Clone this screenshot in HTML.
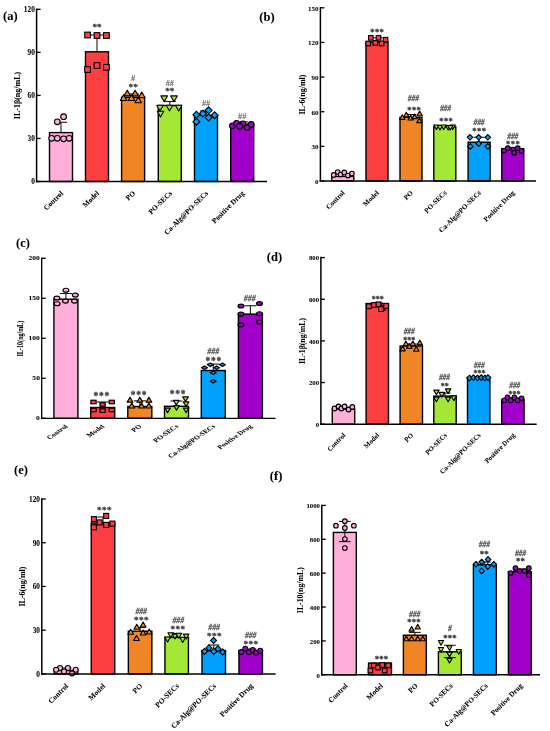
<!DOCTYPE html>
<html><head><meta charset="utf-8"><style>
html,body{margin:0;padding:0;background:#fff;width:550px;height:731px;overflow:hidden;}
svg{display:block;}
svg{will-change:transform;}
text{font-family:"Liberation Serif",serif;}
.k{stroke:#000;stroke-width:0.06px;}
</style></head><body>
<svg width="550" height="731" viewBox="0 0 550 731">
<rect width="550" height="731" fill="#fff"/>
<g>
<text transform="translate(3.00,19.80)" font-size="12.5" font-weight="bold" class="k">(a)</text>
<rect x="49.50" y="132.60" width="23.00" height="48.90" fill="#FFAFD9" stroke="#000" stroke-width="1.4"/>
<rect x="85.50" y="51.80" width="23.00" height="129.70" fill="#FD3F42" stroke="#000" stroke-width="1.4"/>
<rect x="121.60" y="97.30" width="23.00" height="84.20" fill="#F08526" stroke="#000" stroke-width="1.4"/>
<rect x="158.30" y="105.50" width="23.00" height="76.00" fill="#A2E834" stroke="#000" stroke-width="1.4"/>
<rect x="194.50" y="115.20" width="23.00" height="66.30" fill="#00A0FD" stroke="#000" stroke-width="1.4"/>
<rect x="230.70" y="124.20" width="23.00" height="57.30" fill="#A000C9" stroke="#000" stroke-width="1.4"/>
<line x1="61" y1="132.6" x2="61" y2="122.3" stroke="#1a1a1a" stroke-width="1.1"/>
<line x1="55" y1="122.3" x2="67" y2="122.3" stroke="#1a1a1a" stroke-width="1.1"/>
<line x1="97" y1="51.8" x2="97" y2="35" stroke="#1a1a1a" stroke-width="1.1"/>
<line x1="91" y1="35" x2="103" y2="35" stroke="#1a1a1a" stroke-width="1.1"/>
<line x1="133.1" y1="97.3" x2="133.1" y2="94" stroke="#1a1a1a" stroke-width="1.1"/>
<line x1="127.1" y1="94" x2="139.1" y2="94" stroke="#1a1a1a" stroke-width="1.1"/>
<line x1="169.8" y1="105.5" x2="169.8" y2="101.5" stroke="#1a1a1a" stroke-width="1.1"/>
<line x1="163.8" y1="101.5" x2="175.8" y2="101.5" stroke="#1a1a1a" stroke-width="1.1"/>
<line x1="206" y1="115.2" x2="206" y2="111" stroke="#1a1a1a" stroke-width="1.1"/>
<line x1="200" y1="111" x2="212" y2="111" stroke="#1a1a1a" stroke-width="1.1"/>
<line x1="242.2" y1="124.2" x2="242.2" y2="122" stroke="#1a1a1a" stroke-width="1.1"/>
<line x1="236.2" y1="122" x2="248.2" y2="122" stroke="#1a1a1a" stroke-width="1.1"/>
<ellipse cx="51.70" cy="138.30" rx="2.85" ry="2.85" fill="#FFAFD9" stroke="#000" stroke-width="1.1"/>
<ellipse cx="57.30" cy="138.30" rx="2.85" ry="2.85" fill="#FFAFD9" stroke="#000" stroke-width="1.1"/>
<ellipse cx="63.60" cy="138.80" rx="2.85" ry="2.85" fill="#FFAFD9" stroke="#000" stroke-width="1.1"/>
<ellipse cx="69.20" cy="138.30" rx="2.85" ry="2.85" fill="#FFAFD9" stroke="#000" stroke-width="1.1"/>
<ellipse cx="57.30" cy="121.80" rx="2.85" ry="2.85" fill="#FFAFD9" stroke="#000" stroke-width="1.1"/>
<ellipse cx="63.60" cy="116.70" rx="2.85" ry="2.85" fill="#FFAFD9" stroke="#000" stroke-width="1.1"/>
<rect x="84.75" y="32.15" width="5.70" height="5.70" fill="#FD3F42" stroke="#000" stroke-width="1.1"/>
<rect x="94.15" y="32.65" width="5.70" height="5.70" fill="#FD3F42" stroke="#000" stroke-width="1.1"/>
<rect x="103.55" y="32.65" width="5.70" height="5.70" fill="#FD3F42" stroke="#000" stroke-width="1.1"/>
<rect x="84.75" y="66.65" width="5.70" height="5.70" fill="#FD3F42" stroke="#000" stroke-width="1.1"/>
<rect x="94.15" y="62.65" width="5.70" height="5.70" fill="#FD3F42" stroke="#000" stroke-width="1.1"/>
<rect x="103.55" y="64.45" width="5.70" height="5.70" fill="#FD3F42" stroke="#000" stroke-width="1.1"/>
<polygon points="127.30,90.18 130.58,95.88 124.02,95.88" fill="#F08526" stroke="#000" stroke-width="1.1" stroke-linejoin="round"/>
<polygon points="135.10,90.18 138.38,95.88 131.82,95.88" fill="#F08526" stroke="#000" stroke-width="1.1" stroke-linejoin="round"/>
<polygon points="141.80,92.08 145.08,97.78 138.52,97.78" fill="#F08526" stroke="#000" stroke-width="1.1" stroke-linejoin="round"/>
<polygon points="123.60,94.78 126.88,100.48 120.32,100.48" fill="#F08526" stroke="#000" stroke-width="1.1" stroke-linejoin="round"/>
<polygon points="131.50,94.78 134.78,100.48 128.22,100.48" fill="#F08526" stroke="#000" stroke-width="1.1" stroke-linejoin="round"/>
<polygon points="138.20,96.98 141.48,102.68 134.92,102.68" fill="#F08526" stroke="#000" stroke-width="1.1" stroke-linejoin="round"/>
<polygon points="164.20,101.62 167.48,95.92 160.92,95.92" fill="#A2E834" stroke="#000" stroke-width="1.1" stroke-linejoin="round"/>
<polygon points="174.00,101.62 177.28,95.92 170.72,95.92" fill="#A2E834" stroke="#000" stroke-width="1.1" stroke-linejoin="round"/>
<polygon points="160.00,111.02 163.28,105.32 156.72,105.32" fill="#A2E834" stroke="#000" stroke-width="1.1" stroke-linejoin="round"/>
<polygon points="169.50,111.02 172.78,105.32 166.22,105.32" fill="#A2E834" stroke="#000" stroke-width="1.1" stroke-linejoin="round"/>
<polygon points="178.70,111.02 181.98,105.32 175.42,105.32" fill="#A2E834" stroke="#000" stroke-width="1.1" stroke-linejoin="round"/>
<polygon points="160.50,117.02 163.78,111.32 157.22,111.32" fill="#A2E834" stroke="#000" stroke-width="1.1" stroke-linejoin="round"/>
<polygon points="196.40,111.28 199.82,114.70 196.40,118.12 192.98,114.70" fill="#00A0FD" stroke="#000" stroke-width="1.1"/>
<polygon points="202.90,110.18 206.32,113.60 202.90,117.02 199.48,113.60" fill="#00A0FD" stroke="#000" stroke-width="1.1"/>
<polygon points="208.60,106.88 212.02,110.30 208.60,113.72 205.18,110.30" fill="#00A0FD" stroke="#000" stroke-width="1.1"/>
<polygon points="214.70,111.78 218.12,115.20 214.70,118.62 211.28,115.20" fill="#00A0FD" stroke="#000" stroke-width="1.1"/>
<polygon points="208.60,114.18 212.02,117.60 208.60,121.02 205.18,117.60" fill="#00A0FD" stroke="#000" stroke-width="1.1"/>
<polygon points="196.40,118.28 199.82,121.70 196.40,125.12 192.98,121.70" fill="#00A0FD" stroke="#000" stroke-width="1.1"/>
<ellipse cx="232.40" cy="125.80" rx="2.85" ry="2.85" fill="#A000C9" stroke="#000" stroke-width="1.1"/>
<ellipse cx="236.50" cy="123.40" rx="2.85" ry="2.85" fill="#A000C9" stroke="#000" stroke-width="1.1"/>
<ellipse cx="243.00" cy="123.90" rx="2.85" ry="2.85" fill="#A000C9" stroke="#000" stroke-width="1.1"/>
<ellipse cx="247.10" cy="127.50" rx="2.85" ry="2.85" fill="#A000C9" stroke="#000" stroke-width="1.1"/>
<ellipse cx="251.20" cy="124.50" rx="2.85" ry="2.85" fill="#A000C9" stroke="#000" stroke-width="1.1"/>
<ellipse cx="239.70" cy="126.30" rx="2.85" ry="2.85" fill="#A000C9" stroke="#000" stroke-width="1.1"/>
<line x1="36.6" y1="8.55" x2="36.6" y2="182.25" stroke="#000" stroke-width="1.5"/>
<line x1="35.85" y1="181.5" x2="267" y2="181.5" stroke="#000" stroke-width="1.5"/>
<line x1="36.6" y1="181.50" x2="40.6" y2="181.50" stroke="#000" stroke-width="1.3"/>
<text transform="translate(34.80,184.42)" font-size="7.3" font-weight="bold" text-anchor="end" class="k">0</text>
<line x1="36.6" y1="138.45" x2="40.6" y2="138.45" stroke="#000" stroke-width="1.3"/>
<text transform="translate(34.80,141.37)" font-size="7.3" font-weight="bold" text-anchor="end" class="k">30</text>
<line x1="36.6" y1="95.40" x2="40.6" y2="95.40" stroke="#000" stroke-width="1.3"/>
<text transform="translate(34.80,98.32)" font-size="7.3" font-weight="bold" text-anchor="end" class="k">60</text>
<line x1="36.6" y1="52.35" x2="40.6" y2="52.35" stroke="#000" stroke-width="1.3"/>
<text transform="translate(34.80,55.27)" font-size="7.3" font-weight="bold" text-anchor="end" class="k">90</text>
<line x1="36.6" y1="9.30" x2="40.6" y2="9.30" stroke="#000" stroke-width="1.3"/>
<text transform="translate(34.80,12.22)" font-size="7.3" font-weight="bold" text-anchor="end" class="k">120</text>
<text transform="translate(20.00,95.50) rotate(-90)" font-size="8" font-weight="bold" text-anchor="middle" class="k">IL-1β(ng/mL)</text>
<text transform="translate(63.60,193.70) rotate(-45)" font-size="7.3" font-weight="bold" text-anchor="end" class="k">Control</text>
<text transform="translate(99.60,193.70) rotate(-45)" font-size="7.3" font-weight="bold" text-anchor="end" class="k">Model</text>
<text transform="translate(135.70,193.70) rotate(-45)" font-size="7.3" font-weight="bold" text-anchor="end" class="k">PO</text>
<text transform="translate(172.40,193.70) rotate(-45)" font-size="7.3" font-weight="bold" text-anchor="end" class="k">PO-SECs</text>
<text transform="translate(208.60,193.70) rotate(-45)" font-size="7.3" font-weight="bold" text-anchor="end" class="k">Ca-Alg@PO-SECs</text>
<text transform="translate(244.80,193.70) rotate(-45)" font-size="7.3" font-weight="bold" text-anchor="end" class="k">Positive Drug</text>
<text transform="translate(96.97,30.16)" font-size="9.2" font-weight="bold" text-anchor="middle" fill="#3c3c3c" stroke="#3c3c3c" stroke-width="0.3">**</text>
<text transform="translate(133.09,81.00)" font-size="8.3" font-weight="bold" text-anchor="middle" fill="#5a5a5a">#</text>
<text transform="translate(133.17,90.36)" font-size="9.2" font-weight="bold" text-anchor="middle" fill="#3c3c3c" stroke="#3c3c3c" stroke-width="0.3">**</text>
<text transform="translate(169.80,85.64)" font-size="8.3" font-weight="bold" text-anchor="middle" fill="#5a5a5a">##</text>
<text transform="translate(169.84,93.75)" font-size="9.2" font-weight="bold" text-anchor="middle" fill="#3c3c3c" stroke="#3c3c3c" stroke-width="0.3">**</text>
<text transform="translate(206.02,106.00)" font-size="8.3" font-weight="bold" text-anchor="middle" fill="#5a5a5a">##</text>
<text transform="translate(242.17,119.20)" font-size="8.3" font-weight="bold" text-anchor="middle" fill="#5a5a5a">##</text>
</g>
<g>
<text transform="translate(259.30,20.50)" font-size="12.5" font-weight="bold" class="k">(b)</text>
<rect x="331.80" y="176.40" width="22.00" height="4.60" fill="#FFAFD9" stroke="#000" stroke-width="1.4"/>
<rect x="366.00" y="42.00" width="22.00" height="139.00" fill="#FD3F42" stroke="#000" stroke-width="1.4"/>
<rect x="400.00" y="117.30" width="22.00" height="63.70" fill="#F08526" stroke="#000" stroke-width="1.4"/>
<rect x="433.80" y="126.90" width="22.00" height="54.10" fill="#A2E834" stroke="#000" stroke-width="1.4"/>
<rect x="468.10" y="142.20" width="22.00" height="38.80" fill="#00A0FD" stroke="#000" stroke-width="1.4"/>
<rect x="501.80" y="148.70" width="22.00" height="32.30" fill="#A000C9" stroke="#000" stroke-width="1.4"/>
<line x1="377" y1="42" x2="377" y2="37.8" stroke="#1a1a1a" stroke-width="1.1"/>
<line x1="371.5" y1="37.8" x2="382.5" y2="37.8" stroke="#1a1a1a" stroke-width="1.1"/>
<line x1="411" y1="117.3" x2="411" y2="114.5" stroke="#1a1a1a" stroke-width="1.1"/>
<line x1="405.5" y1="114.5" x2="416.5" y2="114.5" stroke="#1a1a1a" stroke-width="1.1"/>
<line x1="444.8" y1="126.9" x2="444.8" y2="125.5" stroke="#1a1a1a" stroke-width="1.1"/>
<line x1="439.3" y1="125.5" x2="450.3" y2="125.5" stroke="#1a1a1a" stroke-width="1.1"/>
<line x1="479.1" y1="142.2" x2="479.1" y2="137.3" stroke="#1a1a1a" stroke-width="1.1"/>
<line x1="473.6" y1="137.3" x2="484.6" y2="137.3" stroke="#1a1a1a" stroke-width="1.1"/>
<line x1="512.8" y1="148.7" x2="512.8" y2="147.5" stroke="#1a1a1a" stroke-width="1.1"/>
<line x1="507.29999999999995" y1="147.5" x2="518.3" y2="147.5" stroke="#1a1a1a" stroke-width="1.1"/>
<ellipse cx="333.70" cy="174.90" rx="2.30" ry="2.30" fill="#FFAFD9" stroke="#000" stroke-width="1.1"/>
<ellipse cx="337.70" cy="172.00" rx="2.30" ry="2.30" fill="#FFAFD9" stroke="#000" stroke-width="1.1"/>
<ellipse cx="340.60" cy="174.50" rx="2.30" ry="2.30" fill="#FFAFD9" stroke="#000" stroke-width="1.1"/>
<ellipse cx="344.30" cy="172.40" rx="2.30" ry="2.30" fill="#FFAFD9" stroke="#000" stroke-width="1.1"/>
<ellipse cx="347.90" cy="175.60" rx="2.30" ry="2.30" fill="#FFAFD9" stroke="#000" stroke-width="1.1"/>
<ellipse cx="351.90" cy="173.50" rx="2.30" ry="2.30" fill="#FFAFD9" stroke="#000" stroke-width="1.1"/>
<rect x="368.50" y="35.50" width="4.60" height="4.60" fill="#FD3F42" stroke="#000" stroke-width="1.1"/>
<rect x="376.20" y="35.50" width="4.60" height="4.60" fill="#FD3F42" stroke="#000" stroke-width="1.1"/>
<rect x="383.20" y="37.40" width="4.60" height="4.60" fill="#FD3F42" stroke="#000" stroke-width="1.1"/>
<rect x="366.00" y="41.20" width="4.60" height="4.60" fill="#FD3F42" stroke="#000" stroke-width="1.1"/>
<rect x="373.00" y="40.60" width="4.60" height="4.60" fill="#FD3F42" stroke="#000" stroke-width="1.1"/>
<rect x="379.30" y="41.20" width="4.60" height="4.60" fill="#FD3F42" stroke="#000" stroke-width="1.1"/>
<polygon points="402.30,114.74 404.94,119.34 399.66,119.34" fill="#F08526" stroke="#000" stroke-width="1.1" stroke-linejoin="round"/>
<polygon points="406.30,112.24 408.94,116.84 403.66,116.84" fill="#F08526" stroke="#000" stroke-width="1.1" stroke-linejoin="round"/>
<polygon points="410.60,115.44 413.25,120.04 407.96,120.04" fill="#F08526" stroke="#000" stroke-width="1.1" stroke-linejoin="round"/>
<polygon points="414.60,114.04 417.25,118.64 411.96,118.64" fill="#F08526" stroke="#000" stroke-width="1.1" stroke-linejoin="round"/>
<polygon points="419.70,111.14 422.34,115.74 417.06,115.74" fill="#F08526" stroke="#000" stroke-width="1.1" stroke-linejoin="round"/>
<polygon points="419.40,118.04 422.04,122.64 416.75,122.64" fill="#F08526" stroke="#000" stroke-width="1.1" stroke-linejoin="round"/>
<polygon points="436.40,129.56 439.05,124.96 433.76,124.96" fill="#A2E834" stroke="#000" stroke-width="1.1" stroke-linejoin="round"/>
<polygon points="440.00,130.06 442.64,125.46 437.36,125.46" fill="#A2E834" stroke="#000" stroke-width="1.1" stroke-linejoin="round"/>
<polygon points="443.60,129.56 446.25,124.96 440.96,124.96" fill="#A2E834" stroke="#000" stroke-width="1.1" stroke-linejoin="round"/>
<polygon points="448.20,130.06 450.84,125.46 445.56,125.46" fill="#A2E834" stroke="#000" stroke-width="1.1" stroke-linejoin="round"/>
<polygon points="452.70,129.56 455.34,124.96 450.06,124.96" fill="#A2E834" stroke="#000" stroke-width="1.1" stroke-linejoin="round"/>
<polygon points="450.30,130.06 452.94,125.46 447.66,125.46" fill="#A2E834" stroke="#000" stroke-width="1.1" stroke-linejoin="round"/>
<polygon points="470.00,134.54 472.76,137.30 470.00,140.06 467.24,137.30" fill="#00A0FD" stroke="#000" stroke-width="1.1"/>
<polygon points="478.70,134.54 481.46,137.30 478.70,140.06 475.94,137.30" fill="#00A0FD" stroke="#000" stroke-width="1.1"/>
<polygon points="487.80,134.54 490.56,137.30 487.80,140.06 485.04,137.30" fill="#00A0FD" stroke="#000" stroke-width="1.1"/>
<polygon points="470.40,143.64 473.16,146.40 470.40,149.16 467.64,146.40" fill="#00A0FD" stroke="#000" stroke-width="1.1"/>
<polygon points="478.70,140.84 481.46,143.60 478.70,146.36 475.94,143.60" fill="#00A0FD" stroke="#000" stroke-width="1.1"/>
<polygon points="487.80,143.64 490.56,146.40 487.80,149.16 485.04,146.40" fill="#00A0FD" stroke="#000" stroke-width="1.1"/>
<ellipse cx="504.10" cy="150.50" rx="2.30" ry="2.30" fill="#A000C9" stroke="#000" stroke-width="1.1"/>
<ellipse cx="507.80" cy="148.20" rx="2.30" ry="2.30" fill="#A000C9" stroke="#000" stroke-width="1.1"/>
<ellipse cx="513.20" cy="149.50" rx="2.30" ry="2.30" fill="#A000C9" stroke="#000" stroke-width="1.1"/>
<ellipse cx="517.80" cy="148.20" rx="2.30" ry="2.30" fill="#A000C9" stroke="#000" stroke-width="1.1"/>
<ellipse cx="521.40" cy="150.90" rx="2.30" ry="2.30" fill="#A000C9" stroke="#000" stroke-width="1.1"/>
<ellipse cx="514.10" cy="152.70" rx="2.30" ry="2.30" fill="#A000C9" stroke="#000" stroke-width="1.1"/>
<line x1="320.4" y1="7.05" x2="320.4" y2="181.75" stroke="#000" stroke-width="1.5"/>
<line x1="319.65" y1="181" x2="536" y2="181" stroke="#000" stroke-width="1.5"/>
<line x1="320.4" y1="181.00" x2="324.4" y2="181.00" stroke="#000" stroke-width="1.3"/>
<text transform="translate(318.60,183.80)" font-size="7" font-weight="bold" text-anchor="end" class="k">0</text>
<line x1="320.4" y1="146.36" x2="324.4" y2="146.36" stroke="#000" stroke-width="1.3"/>
<text transform="translate(318.60,149.16)" font-size="7" font-weight="bold" text-anchor="end" class="k">30</text>
<line x1="320.4" y1="111.72" x2="324.4" y2="111.72" stroke="#000" stroke-width="1.3"/>
<text transform="translate(318.60,114.52)" font-size="7" font-weight="bold" text-anchor="end" class="k">60</text>
<line x1="320.4" y1="77.08" x2="324.4" y2="77.08" stroke="#000" stroke-width="1.3"/>
<text transform="translate(318.60,79.88)" font-size="7" font-weight="bold" text-anchor="end" class="k">90</text>
<line x1="320.4" y1="42.44" x2="324.4" y2="42.44" stroke="#000" stroke-width="1.3"/>
<text transform="translate(318.60,45.24)" font-size="7" font-weight="bold" text-anchor="end" class="k">120</text>
<line x1="320.4" y1="7.80" x2="324.4" y2="7.80" stroke="#000" stroke-width="1.3"/>
<text transform="translate(318.60,10.60)" font-size="7" font-weight="bold" text-anchor="end" class="k">150</text>
<text transform="translate(304.50,94.50) rotate(-90)" font-size="8.0" font-weight="bold" text-anchor="middle" class="k">IL-6(ng/ml)</text>
<text transform="translate(345.10,193.30) rotate(-45)" font-size="7.0" font-weight="bold" text-anchor="end" class="k">Control</text>
<text transform="translate(379.30,193.30) rotate(-45)" font-size="7.0" font-weight="bold" text-anchor="end" class="k">Model</text>
<text transform="translate(413.30,193.30) rotate(-45)" font-size="7.0" font-weight="bold" text-anchor="end" class="k">PO</text>
<text transform="translate(447.10,193.30) rotate(-45)" font-size="7.0" font-weight="bold" text-anchor="end" class="k">PO-SECs</text>
<text transform="translate(481.40,193.30) rotate(-45)" font-size="7.0" font-weight="bold" text-anchor="end" class="k">Ca-Alg@PO-SECs</text>
<text transform="translate(515.10,193.30) rotate(-45)" font-size="7.0" font-weight="bold" text-anchor="end" class="k">Positive Drug</text>
<text transform="translate(377.25,35.27)" font-size="8.6" font-weight="bold" text-anchor="middle" fill="#3c3c3c" stroke="#3c3c3c" stroke-width="0.3" letter-spacing="0.40">***</text>
<text transform="translate(413.38,100.70)" font-size="7.4" text-anchor="middle" fill="#585858" font-style="italic" stroke="#585858" stroke-width="0.3">###</text>
<text transform="translate(414.25,113.27)" font-size="8.6" font-weight="bold" text-anchor="middle" fill="#3c3c3c" stroke="#3c3c3c" stroke-width="0.3" letter-spacing="0.40">***</text>
<text transform="translate(445.47,111.33)" font-size="7.4" text-anchor="middle" fill="#585858" font-style="italic" stroke="#585858" stroke-width="0.3">###</text>
<text transform="translate(446.25,123.67)" font-size="8.6" font-weight="bold" text-anchor="middle" fill="#3c3c3c" stroke="#3c3c3c" stroke-width="0.3" letter-spacing="0.40">***</text>
<text transform="translate(478.99,124.69)" font-size="7.4" text-anchor="middle" fill="#585858" font-style="italic" stroke="#585858" stroke-width="0.3">###</text>
<text transform="translate(479.35,133.67)" font-size="8.6" font-weight="bold" text-anchor="middle" fill="#3c3c3c" stroke="#3c3c3c" stroke-width="0.3" letter-spacing="0.40">***</text>
<text transform="translate(512.78,138.80)" font-size="7.4" text-anchor="middle" fill="#585858" font-style="italic" stroke="#585858" stroke-width="0.3">###</text>
<text transform="translate(513.05,146.87)" font-size="8.6" font-weight="bold" text-anchor="middle" fill="#3c3c3c" stroke="#3c3c3c" stroke-width="0.3" letter-spacing="0.40">***</text>
</g>
<g>
<text transform="translate(16.00,246.90)" font-size="12.5" font-weight="bold" class="k">(c)</text>
<rect x="53.90" y="299.20" width="24.00" height="119.10" fill="#FFAFD9" stroke="#000" stroke-width="1.4"/>
<rect x="90.70" y="407.50" width="24.00" height="10.80" fill="#FD3F42" stroke="#000" stroke-width="1.4"/>
<rect x="127.80" y="406.50" width="24.00" height="11.80" fill="#F08526" stroke="#000" stroke-width="1.4"/>
<rect x="164.50" y="406.30" width="24.00" height="12.00" fill="#A2E834" stroke="#000" stroke-width="1.4"/>
<rect x="201.30" y="370.50" width="24.00" height="47.80" fill="#00A0FD" stroke="#000" stroke-width="1.4"/>
<rect x="238.40" y="314.10" width="24.00" height="104.20" fill="#A000C9" stroke="#000" stroke-width="1.4"/>
<line x1="65.9" y1="299.2" x2="65.9" y2="293.5" stroke="#1a1a1a" stroke-width="1.1"/>
<line x1="59.900000000000006" y1="293.5" x2="71.9" y2="293.5" stroke="#1a1a1a" stroke-width="1.1"/>
<line x1="102.7" y1="407.5" x2="102.7" y2="402" stroke="#1a1a1a" stroke-width="1.1"/>
<line x1="96.7" y1="402" x2="108.7" y2="402" stroke="#1a1a1a" stroke-width="1.1"/>
<line x1="139.8" y1="406.5" x2="139.8" y2="400.8" stroke="#1a1a1a" stroke-width="1.1"/>
<line x1="133.8" y1="400.8" x2="145.8" y2="400.8" stroke="#1a1a1a" stroke-width="1.1"/>
<line x1="176.5" y1="406.3" x2="176.5" y2="401" stroke="#1a1a1a" stroke-width="1.1"/>
<line x1="170.5" y1="401" x2="182.5" y2="401" stroke="#1a1a1a" stroke-width="1.1"/>
<line x1="213.3" y1="370.5" x2="213.3" y2="364.1" stroke="#1a1a1a" stroke-width="1.1"/>
<line x1="207.3" y1="364.1" x2="219.3" y2="364.1" stroke="#1a1a1a" stroke-width="1.1"/>
<line x1="250.4" y1="314.1" x2="250.4" y2="305.7" stroke="#1a1a1a" stroke-width="1.1"/>
<line x1="244.4" y1="305.7" x2="256.4" y2="305.7" stroke="#1a1a1a" stroke-width="1.1"/>
<ellipse cx="65.90" cy="290.20" rx="2.95" ry="1.95" fill="#FFAFD9" stroke="#000" stroke-width="1.2"/>
<ellipse cx="75.30" cy="295.10" rx="2.95" ry="1.95" fill="#FFAFD9" stroke="#000" stroke-width="1.2"/>
<ellipse cx="56.90" cy="298.00" rx="2.95" ry="1.95" fill="#FFAFD9" stroke="#000" stroke-width="1.2"/>
<ellipse cx="65.50" cy="301.10" rx="2.95" ry="1.95" fill="#FFAFD9" stroke="#000" stroke-width="1.2"/>
<ellipse cx="74.50" cy="301.10" rx="2.95" ry="1.95" fill="#FFAFD9" stroke="#000" stroke-width="1.2"/>
<ellipse cx="57.10" cy="303.70" rx="2.95" ry="1.95" fill="#FFAFD9" stroke="#000" stroke-width="1.2"/>
<rect x="90.90" y="400.25" width="5.20" height="3.50" fill="#FD3F42" stroke="#000" stroke-width="1.2"/>
<rect x="109.20" y="400.25" width="5.20" height="3.50" fill="#FD3F42" stroke="#000" stroke-width="1.2"/>
<rect x="100.00" y="402.75" width="5.20" height="3.50" fill="#FD3F42" stroke="#000" stroke-width="1.2"/>
<rect x="90.90" y="408.25" width="5.20" height="3.50" fill="#FD3F42" stroke="#000" stroke-width="1.2"/>
<rect x="100.00" y="408.85" width="5.20" height="3.50" fill="#FD3F42" stroke="#000" stroke-width="1.2"/>
<rect x="109.20" y="408.25" width="5.20" height="3.50" fill="#FD3F42" stroke="#000" stroke-width="1.2"/>
<polygon points="130.00,397.20 132.90,402.20 127.10,402.20" fill="#F08526" stroke="#000" stroke-width="1.2" stroke-linejoin="round"/>
<polygon points="139.80,397.20 142.70,402.20 136.90,402.20" fill="#F08526" stroke="#000" stroke-width="1.2" stroke-linejoin="round"/>
<polygon points="148.90,397.20 151.80,402.20 146.00,402.20" fill="#F08526" stroke="#000" stroke-width="1.2" stroke-linejoin="round"/>
<polygon points="131.80,403.00 134.70,408.00 128.90,408.00" fill="#F08526" stroke="#000" stroke-width="1.2" stroke-linejoin="round"/>
<polygon points="141.60,403.00 144.50,408.00 138.70,408.00" fill="#F08526" stroke="#000" stroke-width="1.2" stroke-linejoin="round"/>
<polygon points="148.90,403.00 151.80,408.00 146.00,408.00" fill="#F08526" stroke="#000" stroke-width="1.2" stroke-linejoin="round"/>
<polygon points="176.30,405.06 179.10,400.46 173.50,400.46" fill="#A2E834" stroke="#000" stroke-width="1.2" stroke-linejoin="round"/>
<polygon points="185.50,401.46 188.30,396.86 182.70,396.86" fill="#A2E834" stroke="#000" stroke-width="1.2" stroke-linejoin="round"/>
<polygon points="186.10,406.56 188.90,401.96 183.30,401.96" fill="#A2E834" stroke="#000" stroke-width="1.2" stroke-linejoin="round"/>
<polygon points="167.60,412.66 170.40,408.06 164.80,408.06" fill="#A2E834" stroke="#000" stroke-width="1.2" stroke-linejoin="round"/>
<polygon points="176.50,410.16 179.30,405.56 173.70,405.56" fill="#A2E834" stroke="#000" stroke-width="1.2" stroke-linejoin="round"/>
<polygon points="186.10,412.66 188.90,408.06 183.30,408.06" fill="#A2E834" stroke="#000" stroke-width="1.2" stroke-linejoin="round"/>
<polygon points="204.50,365.90 207.30,367.70 204.50,369.50 201.70,367.70" fill="#00A0FD" stroke="#000" stroke-width="1.2"/>
<polygon points="210.30,362.90 213.10,364.70 210.30,366.50 207.50,364.70" fill="#00A0FD" stroke="#000" stroke-width="1.2"/>
<polygon points="216.60,365.90 219.40,367.70 216.60,369.50 213.80,367.70" fill="#00A0FD" stroke="#000" stroke-width="1.2"/>
<polygon points="222.40,362.90 225.20,364.70 222.40,366.50 219.60,364.70" fill="#00A0FD" stroke="#000" stroke-width="1.2"/>
<polygon points="213.20,370.90 216.00,372.70 213.20,374.50 210.40,372.70" fill="#00A0FD" stroke="#000" stroke-width="1.2"/>
<polygon points="213.20,379.50 216.00,381.30 213.20,383.10 210.40,381.30" fill="#00A0FD" stroke="#000" stroke-width="1.2"/>
<ellipse cx="241.00" cy="306.00" rx="2.95" ry="1.95" fill="#A000C9" stroke="#000" stroke-width="1.2"/>
<ellipse cx="259.50" cy="303.50" rx="2.95" ry="1.95" fill="#A000C9" stroke="#000" stroke-width="1.2"/>
<ellipse cx="241.00" cy="314.10" rx="2.95" ry="1.95" fill="#A000C9" stroke="#000" stroke-width="1.2"/>
<ellipse cx="259.50" cy="313.70" rx="2.95" ry="1.95" fill="#A000C9" stroke="#000" stroke-width="1.2"/>
<ellipse cx="241.00" cy="324.80" rx="2.95" ry="1.95" fill="#A000C9" stroke="#000" stroke-width="1.2"/>
<ellipse cx="259.50" cy="321.90" rx="2.95" ry="1.95" fill="#A000C9" stroke="#000" stroke-width="1.2"/>
<line x1="41.7" y1="257.65000000000003" x2="41.7" y2="418.95" stroke="#000" stroke-width="1.3"/>
<line x1="41.050000000000004" y1="418.3" x2="275.6" y2="418.3" stroke="#000" stroke-width="1.3"/>
<line x1="41.7" y1="418.30" x2="45.7" y2="418.30" stroke="#000" stroke-width="1.3"/>
<text transform="translate(39.90,420.43) scale(1.08,0.76)" font-size="7" font-weight="bold" text-anchor="end" class="k">0</text>
<line x1="41.7" y1="378.30" x2="45.7" y2="378.30" stroke="#000" stroke-width="1.3"/>
<text transform="translate(39.90,380.43) scale(1.08,0.76)" font-size="7" font-weight="bold" text-anchor="end" class="k">50</text>
<line x1="41.7" y1="338.30" x2="45.7" y2="338.30" stroke="#000" stroke-width="1.3"/>
<text transform="translate(39.90,340.43) scale(1.08,0.76)" font-size="7" font-weight="bold" text-anchor="end" class="k">100</text>
<line x1="41.7" y1="298.30" x2="45.7" y2="298.30" stroke="#000" stroke-width="1.3"/>
<text transform="translate(39.90,300.43) scale(1.08,0.76)" font-size="7" font-weight="bold" text-anchor="end" class="k">150</text>
<line x1="41.7" y1="258.30" x2="45.7" y2="258.30" stroke="#000" stroke-width="1.3"/>
<text transform="translate(39.90,260.43) scale(1.08,0.76)" font-size="7" font-weight="bold" text-anchor="end" class="k">200</text>
<text transform="translate(22.80,338.50) scale(1.08,0.76) rotate(-90)" font-size="8" font-weight="bold" text-anchor="middle" class="k">IL-10(ng/mL)</text>
<text transform="translate(68.20,426.80) scale(1.08,0.76) rotate(-45)" font-size="7.3" font-weight="bold" text-anchor="end" class="k">Control</text>
<text transform="translate(105.00,426.80) scale(1.08,0.76) rotate(-45)" font-size="7.3" font-weight="bold" text-anchor="end" class="k">Model</text>
<text transform="translate(142.10,426.80) scale(1.08,0.76) rotate(-45)" font-size="7.3" font-weight="bold" text-anchor="end" class="k">PO</text>
<text transform="translate(178.80,426.80) scale(1.08,0.76) rotate(-45)" font-size="7.3" font-weight="bold" text-anchor="end" class="k">PO-SECs</text>
<text transform="translate(215.60,426.80) scale(1.08,0.76) rotate(-45)" font-size="7.3" font-weight="bold" text-anchor="end" class="k">Ca-Alg@PO-SECs</text>
<text transform="translate(252.70,426.80) scale(1.08,0.76) rotate(-45)" font-size="7.3" font-weight="bold" text-anchor="end" class="k">Positive Drug</text>
<text transform="translate(101.69,399.34)" font-size="9.4" font-weight="bold" text-anchor="middle" fill="#3c3c3c" stroke="#3c3c3c" stroke-width="0.3" letter-spacing="0.80">***</text>
<text transform="translate(139.09,398.42)" font-size="9.4" font-weight="bold" text-anchor="middle" fill="#3c3c3c" stroke="#3c3c3c" stroke-width="0.3" letter-spacing="0.80">***</text>
<text transform="translate(177.89,397.02)" font-size="9.4" font-weight="bold" text-anchor="middle" fill="#3c3c3c" stroke="#3c3c3c" stroke-width="0.3" letter-spacing="0.80">***</text>
<text transform="translate(213.18,354.22)" font-size="7.8" text-anchor="middle" fill="#585858" font-style="italic" stroke="#585858" stroke-width="0.3">###</text>
<text transform="translate(213.76,364.02)" font-size="9.4" font-weight="bold" text-anchor="middle" fill="#3c3c3c" stroke="#3c3c3c" stroke-width="0.3" letter-spacing="0.80">***</text>
<text transform="translate(249.68,300.82)" font-size="7.8" text-anchor="middle" fill="#585858" font-style="italic" stroke="#585858" stroke-width="0.3">###</text>
</g>
<g>
<text transform="translate(266.80,260.80)" font-size="12.5" font-weight="bold" class="k">(d)</text>
<rect x="332.30" y="409.00" width="22.40" height="15.20" fill="#FFAFD9" stroke="#000" stroke-width="1.4"/>
<rect x="366.10" y="303.50" width="22.40" height="120.70" fill="#FD3F42" stroke="#000" stroke-width="1.4"/>
<rect x="400.10" y="346.00" width="22.40" height="78.20" fill="#F08526" stroke="#000" stroke-width="1.4"/>
<rect x="433.80" y="396.10" width="22.40" height="28.10" fill="#A2E834" stroke="#000" stroke-width="1.4"/>
<rect x="467.50" y="377.50" width="22.40" height="46.70" fill="#00A0FD" stroke="#000" stroke-width="1.4"/>
<rect x="501.70" y="399.80" width="22.40" height="24.40" fill="#A000C9" stroke="#000" stroke-width="1.4"/>
<line x1="377.3" y1="303.5" x2="377.3" y2="303" stroke="#1a1a1a" stroke-width="1.1"/>
<line x1="371.8" y1="303" x2="382.8" y2="303" stroke="#1a1a1a" stroke-width="1.1"/>
<line x1="411.3" y1="346" x2="411.3" y2="344" stroke="#1a1a1a" stroke-width="1.1"/>
<line x1="405.8" y1="344" x2="416.8" y2="344" stroke="#1a1a1a" stroke-width="1.1"/>
<line x1="445" y1="396.1" x2="445" y2="393" stroke="#1a1a1a" stroke-width="1.1"/>
<line x1="439.5" y1="393" x2="450.5" y2="393" stroke="#1a1a1a" stroke-width="1.1"/>
<line x1="478.7" y1="377.5" x2="478.7" y2="377" stroke="#1a1a1a" stroke-width="1.1"/>
<line x1="473.2" y1="377" x2="484.2" y2="377" stroke="#1a1a1a" stroke-width="1.1"/>
<line x1="512.9" y1="399.8" x2="512.9" y2="398" stroke="#1a1a1a" stroke-width="1.1"/>
<line x1="507.4" y1="398" x2="518.4" y2="398" stroke="#1a1a1a" stroke-width="1.1"/>
<ellipse cx="334.50" cy="408.50" rx="2.35" ry="2.35" fill="#FFAFD9" stroke="#000" stroke-width="1.1"/>
<ellipse cx="338.50" cy="406.50" rx="2.35" ry="2.35" fill="#FFAFD9" stroke="#000" stroke-width="1.1"/>
<ellipse cx="341.40" cy="408.50" rx="2.35" ry="2.35" fill="#FFAFD9" stroke="#000" stroke-width="1.1"/>
<ellipse cx="344.60" cy="406.50" rx="2.35" ry="2.35" fill="#FFAFD9" stroke="#000" stroke-width="1.1"/>
<ellipse cx="348.60" cy="409.50" rx="2.35" ry="2.35" fill="#FFAFD9" stroke="#000" stroke-width="1.1"/>
<ellipse cx="352.30" cy="407.00" rx="2.35" ry="2.35" fill="#FFAFD9" stroke="#000" stroke-width="1.1"/>
<rect x="366.55" y="303.95" width="4.70" height="4.70" fill="#FD3F42" stroke="#000" stroke-width="1.1"/>
<rect x="371.65" y="302.65" width="4.70" height="4.70" fill="#FD3F42" stroke="#000" stroke-width="1.1"/>
<rect x="376.15" y="301.95" width="4.70" height="4.70" fill="#FD3F42" stroke="#000" stroke-width="1.1"/>
<rect x="380.55" y="305.45" width="4.70" height="4.70" fill="#FD3F42" stroke="#000" stroke-width="1.1"/>
<rect x="383.75" y="303.55" width="4.70" height="4.70" fill="#FD3F42" stroke="#000" stroke-width="1.1"/>
<rect x="378.65" y="306.75" width="4.70" height="4.70" fill="#FD3F42" stroke="#000" stroke-width="1.1"/>
<polygon points="405.80,341.08 408.50,345.78 403.10,345.78" fill="#F08526" stroke="#000" stroke-width="1.1" stroke-linejoin="round"/>
<polygon points="412.80,341.08 415.50,345.78 410.10,345.78" fill="#F08526" stroke="#000" stroke-width="1.1" stroke-linejoin="round"/>
<polygon points="419.80,340.18 422.50,344.88 417.10,344.88" fill="#F08526" stroke="#000" stroke-width="1.1" stroke-linejoin="round"/>
<polygon points="409.30,343.68 412.00,348.38 406.60,348.38" fill="#F08526" stroke="#000" stroke-width="1.1" stroke-linejoin="round"/>
<polygon points="402.60,346.18 405.30,350.88 399.90,350.88" fill="#F08526" stroke="#000" stroke-width="1.1" stroke-linejoin="round"/>
<polygon points="416.30,346.48 419.00,351.18 413.60,351.18" fill="#F08526" stroke="#000" stroke-width="1.1" stroke-linejoin="round"/>
<polygon points="436.40,394.82 439.10,390.12 433.70,390.12" fill="#A2E834" stroke="#000" stroke-width="1.1" stroke-linejoin="round"/>
<polygon points="448.10,393.62 450.80,388.92 445.40,388.92" fill="#A2E834" stroke="#000" stroke-width="1.1" stroke-linejoin="round"/>
<polygon points="441.80,397.12 444.50,392.42 439.10,392.42" fill="#A2E834" stroke="#000" stroke-width="1.1" stroke-linejoin="round"/>
<polygon points="436.40,401.82 439.10,397.12 433.70,397.12" fill="#A2E834" stroke="#000" stroke-width="1.1" stroke-linejoin="round"/>
<polygon points="448.10,401.82 450.80,397.12 445.40,397.12" fill="#A2E834" stroke="#000" stroke-width="1.1" stroke-linejoin="round"/>
<polygon points="453.90,400.62 456.60,395.92 451.20,395.92" fill="#A2E834" stroke="#000" stroke-width="1.1" stroke-linejoin="round"/>
<polygon points="469.50,375.18 472.32,378.00 469.50,380.82 466.68,378.00" fill="#00A0FD" stroke="#000" stroke-width="1.1"/>
<polygon points="473.50,374.78 476.32,377.60 473.50,380.42 470.68,377.60" fill="#00A0FD" stroke="#000" stroke-width="1.1"/>
<polygon points="477.50,375.18 480.32,378.00 477.50,380.82 474.68,378.00" fill="#00A0FD" stroke="#000" stroke-width="1.1"/>
<polygon points="481.30,374.78 484.12,377.60 481.30,380.42 478.48,377.60" fill="#00A0FD" stroke="#000" stroke-width="1.1"/>
<polygon points="484.90,375.18 487.72,378.00 484.90,380.82 482.08,378.00" fill="#00A0FD" stroke="#000" stroke-width="1.1"/>
<polygon points="488.00,374.78 490.82,377.60 488.00,380.42 485.18,377.60" fill="#00A0FD" stroke="#000" stroke-width="1.1"/>
<ellipse cx="504.20" cy="400.40" rx="2.35" ry="2.35" fill="#A000C9" stroke="#000" stroke-width="1.1"/>
<ellipse cx="507.50" cy="397.40" rx="2.35" ry="2.35" fill="#A000C9" stroke="#000" stroke-width="1.1"/>
<ellipse cx="510.80" cy="400.40" rx="2.35" ry="2.35" fill="#A000C9" stroke="#000" stroke-width="1.1"/>
<ellipse cx="514.40" cy="397.40" rx="2.35" ry="2.35" fill="#A000C9" stroke="#000" stroke-width="1.1"/>
<ellipse cx="517.70" cy="400.40" rx="2.35" ry="2.35" fill="#A000C9" stroke="#000" stroke-width="1.1"/>
<ellipse cx="521.60" cy="398.30" rx="2.35" ry="2.35" fill="#A000C9" stroke="#000" stroke-width="1.1"/>
<line x1="320.9" y1="256.85" x2="320.9" y2="424.95" stroke="#000" stroke-width="1.5"/>
<line x1="320.15" y1="424.2" x2="536.7" y2="424.2" stroke="#000" stroke-width="1.5"/>
<line x1="320.9" y1="424.20" x2="324.9" y2="424.20" stroke="#000" stroke-width="1.3"/>
<text transform="translate(319.10,426.92)" font-size="6.8" font-weight="bold" text-anchor="end" class="k">0</text>
<line x1="320.9" y1="382.55" x2="324.9" y2="382.55" stroke="#000" stroke-width="1.3"/>
<text transform="translate(319.10,385.27)" font-size="6.8" font-weight="bold" text-anchor="end" class="k">200</text>
<line x1="320.9" y1="340.90" x2="324.9" y2="340.90" stroke="#000" stroke-width="1.3"/>
<text transform="translate(319.10,343.62)" font-size="6.8" font-weight="bold" text-anchor="end" class="k">400</text>
<line x1="320.9" y1="299.25" x2="324.9" y2="299.25" stroke="#000" stroke-width="1.3"/>
<text transform="translate(319.10,301.97)" font-size="6.8" font-weight="bold" text-anchor="end" class="k">600</text>
<line x1="320.9" y1="257.60" x2="324.9" y2="257.60" stroke="#000" stroke-width="1.3"/>
<text transform="translate(319.10,260.32)" font-size="6.8" font-weight="bold" text-anchor="end" class="k">800</text>
<text transform="translate(305.00,341.00) rotate(-90)" font-size="7.8" font-weight="bold" text-anchor="middle" class="k">IL-1β(ng/mL)</text>
<text transform="translate(345.90,435.70) rotate(-45)" font-size="6.8" font-weight="bold" text-anchor="end" class="k">Control</text>
<text transform="translate(379.70,435.70) rotate(-45)" font-size="6.8" font-weight="bold" text-anchor="end" class="k">Model</text>
<text transform="translate(413.70,435.70) rotate(-45)" font-size="6.8" font-weight="bold" text-anchor="end" class="k">PO</text>
<text transform="translate(447.40,435.70) rotate(-45)" font-size="6.8" font-weight="bold" text-anchor="end" class="k">PO-SECs</text>
<text transform="translate(481.10,435.70) rotate(-45)" font-size="6.8" font-weight="bold" text-anchor="end" class="k">Ca-Alg@PO-SECs</text>
<text transform="translate(515.30,435.70) rotate(-45)" font-size="6.8" font-weight="bold" text-anchor="end" class="k">Positive Drug</text>
<text transform="translate(377.74,302.31)" font-size="8.0" font-weight="bold" text-anchor="middle" fill="#3c3c3c" stroke="#3c3c3c" stroke-width="0.3">***</text>
<text transform="translate(409.15,333.87)" font-size="7.2" text-anchor="middle" fill="#585858" font-style="italic" stroke="#585858" stroke-width="0.3">###</text>
<text transform="translate(409.34,342.99)" font-size="8.0" font-weight="bold" text-anchor="middle" fill="#3c3c3c" stroke="#3c3c3c" stroke-width="0.3">***</text>
<text transform="translate(444.42,379.79)" font-size="7.2" text-anchor="middle" fill="#585858" font-style="italic" stroke="#585858" stroke-width="0.3">###</text>
<text transform="translate(444.84,388.51)" font-size="8.0" font-weight="bold" text-anchor="middle" fill="#3c3c3c" stroke="#3c3c3c" stroke-width="0.3">**</text>
<text transform="translate(479.17,367.95)" font-size="7.2" text-anchor="middle" fill="#585858" font-style="italic" stroke="#585858" stroke-width="0.3">###</text>
<text transform="translate(479.57,376.25)" font-size="8.0" font-weight="bold" text-anchor="middle" fill="#3c3c3c" stroke="#3c3c3c" stroke-width="0.3">***</text>
<text transform="translate(514.76,388.07)" font-size="7.2" text-anchor="middle" fill="#585858" font-style="italic" stroke="#585858" stroke-width="0.3">###</text>
<text transform="translate(514.54,396.51)" font-size="8.0" font-weight="bold" text-anchor="middle" fill="#3c3c3c" stroke="#3c3c3c" stroke-width="0.3">***</text>
</g>
<g>
<text transform="translate(14.00,474.30)" font-size="12.5" font-weight="bold" class="k">(e)</text>
<rect x="54.25" y="670.50" width="23.50" height="3.40" fill="#FFAFD9" stroke="#000" stroke-width="1.4"/>
<rect x="91.25" y="523.00" width="23.50" height="150.90" fill="#FD3F42" stroke="#000" stroke-width="1.4"/>
<rect x="128.35" y="631.20" width="23.50" height="42.70" fill="#F08526" stroke="#000" stroke-width="1.4"/>
<rect x="164.95" y="637.40" width="23.50" height="36.50" fill="#A2E834" stroke="#000" stroke-width="1.4"/>
<rect x="202.00" y="650.50" width="23.50" height="23.40" fill="#00A0FD" stroke="#000" stroke-width="1.4"/>
<rect x="238.95" y="650.80" width="23.50" height="23.10" fill="#A000C9" stroke="#000" stroke-width="1.4"/>
<line x1="66" y1="670.5" x2="66" y2="668" stroke="#1a1a1a" stroke-width="1.1"/>
<line x1="60.5" y1="668" x2="71.5" y2="668" stroke="#1a1a1a" stroke-width="1.1"/>
<line x1="103" y1="523" x2="103" y2="517" stroke="#1a1a1a" stroke-width="1.1"/>
<line x1="97.5" y1="517" x2="108.5" y2="517" stroke="#1a1a1a" stroke-width="1.1"/>
<line x1="140.1" y1="631.2" x2="140.1" y2="627.5" stroke="#1a1a1a" stroke-width="1.1"/>
<line x1="134.6" y1="627.5" x2="145.6" y2="627.5" stroke="#1a1a1a" stroke-width="1.1"/>
<line x1="176.7" y1="637.4" x2="176.7" y2="633.5" stroke="#1a1a1a" stroke-width="1.1"/>
<line x1="171.2" y1="633.5" x2="182.2" y2="633.5" stroke="#1a1a1a" stroke-width="1.1"/>
<line x1="213.75" y1="650.5" x2="213.75" y2="645" stroke="#1a1a1a" stroke-width="1.1"/>
<line x1="208.25" y1="645" x2="219.25" y2="645" stroke="#1a1a1a" stroke-width="1.1"/>
<line x1="250.7" y1="650.8" x2="250.7" y2="649" stroke="#1a1a1a" stroke-width="1.1"/>
<line x1="245.2" y1="649" x2="256.2" y2="649" stroke="#1a1a1a" stroke-width="1.1"/>
<ellipse cx="60.10" cy="668.00" rx="2.50" ry="2.50" fill="#FFAFD9" stroke="#000" stroke-width="1.1"/>
<ellipse cx="67.90" cy="668.00" rx="2.50" ry="2.50" fill="#FFAFD9" stroke="#000" stroke-width="1.1"/>
<ellipse cx="75.70" cy="669.80" rx="2.50" ry="2.50" fill="#FFAFD9" stroke="#000" stroke-width="1.1"/>
<ellipse cx="56.10" cy="669.80" rx="2.50" ry="2.50" fill="#FFAFD9" stroke="#000" stroke-width="1.1"/>
<ellipse cx="72.00" cy="673.40" rx="2.50" ry="2.50" fill="#FFAFD9" stroke="#000" stroke-width="1.1"/>
<ellipse cx="64.00" cy="671.50" rx="2.50" ry="2.50" fill="#FFAFD9" stroke="#000" stroke-width="1.1"/>
<rect x="91.40" y="516.60" width="5.00" height="5.00" fill="#FD3F42" stroke="#000" stroke-width="1.1"/>
<rect x="97.10" y="519.90" width="5.00" height="5.00" fill="#FD3F42" stroke="#000" stroke-width="1.1"/>
<rect x="103.70" y="513.40" width="5.00" height="5.00" fill="#FD3F42" stroke="#000" stroke-width="1.1"/>
<rect x="103.70" y="522.40" width="5.00" height="5.00" fill="#FD3F42" stroke="#000" stroke-width="1.1"/>
<rect x="109.90" y="521.10" width="5.00" height="5.00" fill="#FD3F42" stroke="#000" stroke-width="1.1"/>
<rect x="91.40" y="524.80" width="5.00" height="5.00" fill="#FD3F42" stroke="#000" stroke-width="1.1"/>
<polygon points="143.10,622.00 145.97,627.00 140.22,627.00" fill="#F08526" stroke="#000" stroke-width="1.1" stroke-linejoin="round"/>
<polygon points="136.80,624.20 139.67,629.20 133.92,629.20" fill="#F08526" stroke="#000" stroke-width="1.1" stroke-linejoin="round"/>
<polygon points="130.70,629.30 133.57,634.30 127.82,634.30" fill="#F08526" stroke="#000" stroke-width="1.1" stroke-linejoin="round"/>
<polygon points="143.10,630.00 145.97,635.00 140.22,635.00" fill="#F08526" stroke="#000" stroke-width="1.1" stroke-linejoin="round"/>
<polygon points="149.20,629.00 152.07,634.00 146.32,634.00" fill="#F08526" stroke="#000" stroke-width="1.1" stroke-linejoin="round"/>
<polygon points="136.50,635.50 139.38,640.50 133.62,640.50" fill="#F08526" stroke="#000" stroke-width="1.1" stroke-linejoin="round"/>
<polygon points="170.80,637.80 173.67,632.80 167.92,632.80" fill="#A2E834" stroke="#000" stroke-width="1.1" stroke-linejoin="round"/>
<polygon points="175.00,639.10 177.88,634.10 172.12,634.10" fill="#A2E834" stroke="#000" stroke-width="1.1" stroke-linejoin="round"/>
<polygon points="178.80,638.20 181.67,633.20 175.92,633.20" fill="#A2E834" stroke="#000" stroke-width="1.1" stroke-linejoin="round"/>
<polygon points="186.10,639.10 188.97,634.10 183.22,634.10" fill="#A2E834" stroke="#000" stroke-width="1.1" stroke-linejoin="round"/>
<polygon points="167.60,642.00 170.47,637.00 164.72,637.00" fill="#A2E834" stroke="#000" stroke-width="1.1" stroke-linejoin="round"/>
<polygon points="182.70,642.50 185.57,637.50 179.82,637.50" fill="#A2E834" stroke="#000" stroke-width="1.1" stroke-linejoin="round"/>
<polygon points="213.55,637.50 216.55,640.50 213.55,643.50 210.55,640.50" fill="#00A0FD" stroke="#000" stroke-width="1.1"/>
<polygon points="208.95,644.90 211.95,647.90 208.95,650.90 205.95,647.90" fill="#00A0FD" stroke="#000" stroke-width="1.1"/>
<polygon points="217.95,645.80 220.95,648.80 217.95,651.80 214.95,648.80" fill="#00A0FD" stroke="#000" stroke-width="1.1"/>
<polygon points="204.55,648.40 207.55,651.40 204.55,654.40 201.55,651.40" fill="#00A0FD" stroke="#000" stroke-width="1.1"/>
<polygon points="213.75,648.40 216.75,651.40 213.75,654.40 210.75,651.40" fill="#00A0FD" stroke="#000" stroke-width="1.1"/>
<polygon points="222.65,649.00 225.65,652.00 222.65,655.00 219.65,652.00" fill="#00A0FD" stroke="#000" stroke-width="1.1"/>
<ellipse cx="241.20" cy="652.10" rx="2.50" ry="2.50" fill="#A000C9" stroke="#000" stroke-width="1.1"/>
<ellipse cx="245.30" cy="648.70" rx="2.50" ry="2.50" fill="#A000C9" stroke="#000" stroke-width="1.1"/>
<ellipse cx="248.80" cy="652.10" rx="2.50" ry="2.50" fill="#A000C9" stroke="#000" stroke-width="1.1"/>
<ellipse cx="252.70" cy="650.00" rx="2.50" ry="2.50" fill="#A000C9" stroke="#000" stroke-width="1.1"/>
<ellipse cx="256.10" cy="652.70" rx="2.50" ry="2.50" fill="#A000C9" stroke="#000" stroke-width="1.1"/>
<ellipse cx="260.20" cy="650.80" rx="2.50" ry="2.50" fill="#A000C9" stroke="#000" stroke-width="1.1"/>
<line x1="41.8" y1="498.25" x2="41.8" y2="674.65" stroke="#000" stroke-width="1.5"/>
<line x1="41.05" y1="673.9" x2="275.6" y2="673.9" stroke="#000" stroke-width="1.5"/>
<line x1="41.8" y1="673.90" x2="45.8" y2="673.90" stroke="#000" stroke-width="1.3"/>
<text transform="translate(40.00,676.82)" font-size="7.3" font-weight="bold" text-anchor="end" class="k">0</text>
<line x1="41.8" y1="630.17" x2="45.8" y2="630.17" stroke="#000" stroke-width="1.3"/>
<text transform="translate(40.00,633.09)" font-size="7.3" font-weight="bold" text-anchor="end" class="k">30</text>
<line x1="41.8" y1="586.45" x2="45.8" y2="586.45" stroke="#000" stroke-width="1.3"/>
<text transform="translate(40.00,589.37)" font-size="7.3" font-weight="bold" text-anchor="end" class="k">60</text>
<line x1="41.8" y1="542.73" x2="45.8" y2="542.73" stroke="#000" stroke-width="1.3"/>
<text transform="translate(40.00,545.64)" font-size="7.3" font-weight="bold" text-anchor="end" class="k">90</text>
<line x1="41.8" y1="499.00" x2="45.8" y2="499.00" stroke="#000" stroke-width="1.3"/>
<text transform="translate(40.00,501.92)" font-size="7.3" font-weight="bold" text-anchor="end" class="k">120</text>
<text transform="translate(24.60,586.50) rotate(-90)" font-size="8.0" font-weight="bold" text-anchor="middle" class="k">IL-6(ng/ml)</text>
<text transform="translate(68.80,686.40) rotate(-45)" font-size="7.5" font-weight="bold" text-anchor="end" class="k">Control</text>
<text transform="translate(105.80,686.40) rotate(-45)" font-size="7.5" font-weight="bold" text-anchor="end" class="k">Model</text>
<text transform="translate(142.90,686.40) rotate(-45)" font-size="7.5" font-weight="bold" text-anchor="end" class="k">PO</text>
<text transform="translate(179.50,686.40) rotate(-45)" font-size="7.5" font-weight="bold" text-anchor="end" class="k">PO-SECs</text>
<text transform="translate(216.55,686.40) rotate(-45)" font-size="7.5" font-weight="bold" text-anchor="end" class="k">Ca-Alg@PO-SECs</text>
<text transform="translate(253.50,686.40) rotate(-45)" font-size="7.5" font-weight="bold" text-anchor="end" class="k">Positive Drug</text>
<text transform="translate(104.39,513.36)" font-size="9.2" font-weight="bold" text-anchor="middle" fill="#3c3c3c" stroke="#3c3c3c" stroke-width="0.3" letter-spacing="0.40">***</text>
<text transform="translate(141.13,613.56)" font-size="7.6" text-anchor="middle" fill="#585858" font-style="italic" stroke="#585858" stroke-width="0.3">###</text>
<text transform="translate(141.56,622.76)" font-size="9.2" font-weight="bold" text-anchor="middle" fill="#3c3c3c" stroke="#3c3c3c" stroke-width="0.3" letter-spacing="0.40">***</text>
<text transform="translate(178.24,622.80)" font-size="7.6" text-anchor="middle" fill="#585858" font-style="italic" stroke="#585858" stroke-width="0.3">###</text>
<text transform="translate(178.08,631.95)" font-size="9.2" font-weight="bold" text-anchor="middle" fill="#3c3c3c" stroke="#3c3c3c" stroke-width="0.3" letter-spacing="0.40">***</text>
<text transform="translate(214.05,630.47)" font-size="7.6" text-anchor="middle" fill="#585858" font-style="italic" stroke="#585858" stroke-width="0.3">###</text>
<text transform="translate(214.39,638.55)" font-size="9.2" font-weight="bold" text-anchor="middle" fill="#3c3c3c" stroke="#3c3c3c" stroke-width="0.3" letter-spacing="0.40">***</text>
<text transform="translate(250.62,638.36)" font-size="7.6" text-anchor="middle" fill="#585858" font-style="italic" stroke="#585858" stroke-width="0.3">###</text>
<text transform="translate(250.88,646.55)" font-size="9.2" font-weight="bold" text-anchor="middle" fill="#3c3c3c" stroke="#3c3c3c" stroke-width="0.3" letter-spacing="0.40">***</text>
</g>
<g>
<text transform="translate(269.80,479.80)" font-size="12.5" font-weight="bold" class="k">(f)</text>
<rect x="333.40" y="532.40" width="22.90" height="142.40" fill="#FFAFD9" stroke="#000" stroke-width="1.4"/>
<rect x="368.55" y="663.10" width="22.90" height="11.70" fill="#FD3F42" stroke="#000" stroke-width="1.4"/>
<rect x="403.40" y="635.20" width="22.90" height="39.60" fill="#F08526" stroke="#000" stroke-width="1.4"/>
<rect x="438.40" y="651.80" width="22.90" height="23.00" fill="#A2E834" stroke="#000" stroke-width="1.4"/>
<rect x="473.40" y="564.80" width="22.90" height="110.00" fill="#00A0FD" stroke="#000" stroke-width="1.4"/>
<rect x="508.40" y="571.70" width="22.90" height="103.10" fill="#A000C9" stroke="#000" stroke-width="1.4"/>
<line x1="344.85" y1="532.4" x2="344.85" y2="521.4" stroke="#1a1a1a" stroke-width="1.1"/>
<line x1="338.95000000000005" y1="521.4" x2="350.75" y2="521.4" stroke="#1a1a1a" stroke-width="1.1"/>
<line x1="344.85" y1="532.4" x2="344.85" y2="541.6" stroke="#1a1a1a" stroke-width="1.1"/>
<line x1="338.95000000000005" y1="541.6" x2="350.75" y2="541.6" stroke="#1a1a1a" stroke-width="1.1"/>
<line x1="380" y1="663.1" x2="380" y2="664" stroke="#1a1a1a" stroke-width="1.1"/>
<line x1="374.1" y1="664" x2="385.9" y2="664" stroke="#1a1a1a" stroke-width="1.1"/>
<line x1="414.85" y1="635.2" x2="414.85" y2="632.4" stroke="#1a1a1a" stroke-width="1.1"/>
<line x1="408.95000000000005" y1="632.4" x2="420.75" y2="632.4" stroke="#1a1a1a" stroke-width="1.1"/>
<line x1="449.85" y1="651.8" x2="449.85" y2="645.3" stroke="#1a1a1a" stroke-width="1.1"/>
<line x1="443.95000000000005" y1="645.3" x2="455.75" y2="645.3" stroke="#1a1a1a" stroke-width="1.1"/>
<line x1="449.85" y1="651.8" x2="449.85" y2="657.6" stroke="#1a1a1a" stroke-width="1.1"/>
<line x1="443.95000000000005" y1="657.6" x2="455.75" y2="657.6" stroke="#1a1a1a" stroke-width="1.1"/>
<line x1="484.85" y1="564.8" x2="484.85" y2="562" stroke="#1a1a1a" stroke-width="1.1"/>
<line x1="478.95000000000005" y1="562" x2="490.75" y2="562" stroke="#1a1a1a" stroke-width="1.1"/>
<line x1="519.85" y1="571.7" x2="519.85" y2="569" stroke="#1a1a1a" stroke-width="1.1"/>
<line x1="513.95" y1="569" x2="525.75" y2="569" stroke="#1a1a1a" stroke-width="1.1"/>
<ellipse cx="344.85" cy="521.20" rx="2.30" ry="2.30" fill="#FFAFD9" stroke="#000" stroke-width="1.1"/>
<ellipse cx="335.95" cy="525.70" rx="2.30" ry="2.30" fill="#FFAFD9" stroke="#000" stroke-width="1.1"/>
<ellipse cx="353.85" cy="525.70" rx="2.30" ry="2.30" fill="#FFAFD9" stroke="#000" stroke-width="1.1"/>
<ellipse cx="344.85" cy="527.90" rx="2.30" ry="2.30" fill="#FFAFD9" stroke="#000" stroke-width="1.1"/>
<ellipse cx="344.85" cy="539.10" rx="2.30" ry="2.30" fill="#FFAFD9" stroke="#000" stroke-width="1.1"/>
<ellipse cx="344.85" cy="548.00" rx="2.30" ry="2.30" fill="#FFAFD9" stroke="#000" stroke-width="1.1"/>
<rect x="371.60" y="663.10" width="4.60" height="4.60" fill="#FD3F42" stroke="#000" stroke-width="1.1"/>
<rect x="375.70" y="665.30" width="4.60" height="4.60" fill="#FD3F42" stroke="#000" stroke-width="1.1"/>
<rect x="379.90" y="662.70" width="4.60" height="4.60" fill="#FD3F42" stroke="#000" stroke-width="1.1"/>
<rect x="385.90" y="663.10" width="4.60" height="4.60" fill="#FD3F42" stroke="#000" stroke-width="1.1"/>
<rect x="368.10" y="668.20" width="4.60" height="4.60" fill="#FD3F42" stroke="#000" stroke-width="1.1"/>
<rect x="382.40" y="668.20" width="4.60" height="4.60" fill="#FD3F42" stroke="#000" stroke-width="1.1"/>
<polygon points="411.65,626.54 414.30,631.14 409.01,631.14" fill="#F08526" stroke="#000" stroke-width="1.1" stroke-linejoin="round"/>
<polygon points="417.75,624.34 420.39,628.94 415.11,628.94" fill="#F08526" stroke="#000" stroke-width="1.1" stroke-linejoin="round"/>
<polygon points="406.35,636.14 409.00,640.74 403.71,640.74" fill="#F08526" stroke="#000" stroke-width="1.1" stroke-linejoin="round"/>
<polygon points="411.65,636.14 414.30,640.74 409.01,640.74" fill="#F08526" stroke="#000" stroke-width="1.1" stroke-linejoin="round"/>
<polygon points="417.75,636.14 420.39,640.74 415.11,640.74" fill="#F08526" stroke="#000" stroke-width="1.1" stroke-linejoin="round"/>
<polygon points="422.85,636.14 425.50,640.74 420.21,640.74" fill="#F08526" stroke="#000" stroke-width="1.1" stroke-linejoin="round"/>
<polygon points="441.00,645.16 443.64,640.56 438.36,640.56" fill="#A2E834" stroke="#000" stroke-width="1.1" stroke-linejoin="round"/>
<polygon points="441.00,652.16 443.64,647.56 438.36,647.56" fill="#A2E834" stroke="#000" stroke-width="1.1" stroke-linejoin="round"/>
<polygon points="449.50,650.26 452.14,645.66 446.86,645.66" fill="#A2E834" stroke="#000" stroke-width="1.1" stroke-linejoin="round"/>
<polygon points="458.80,654.16 461.44,649.56 456.16,649.56" fill="#A2E834" stroke="#000" stroke-width="1.1" stroke-linejoin="round"/>
<polygon points="449.50,656.86 452.14,652.26 446.86,652.26" fill="#A2E834" stroke="#000" stroke-width="1.1" stroke-linejoin="round"/>
<polygon points="449.50,662.96 452.14,658.36 446.86,658.36" fill="#A2E834" stroke="#000" stroke-width="1.1" stroke-linejoin="round"/>
<polygon points="475.95,561.44 478.71,564.20 475.95,566.96 473.19,564.20" fill="#00A0FD" stroke="#000" stroke-width="1.1"/>
<polygon points="481.65,559.24 484.41,562.00 481.65,564.76 478.89,562.00" fill="#00A0FD" stroke="#000" stroke-width="1.1"/>
<polygon points="488.05,556.64 490.81,559.40 488.05,562.16 485.29,559.40" fill="#00A0FD" stroke="#000" stroke-width="1.1"/>
<polygon points="493.75,561.44 496.51,564.20 493.75,566.96 490.99,564.20" fill="#00A0FD" stroke="#000" stroke-width="1.1"/>
<polygon points="487.75,563.64 490.51,566.40 487.75,569.16 484.99,566.40" fill="#00A0FD" stroke="#000" stroke-width="1.1"/>
<polygon points="481.65,568.14 484.41,570.90 481.65,573.66 478.89,570.90" fill="#00A0FD" stroke="#000" stroke-width="1.1"/>
<ellipse cx="515.45" cy="568.20" rx="2.30" ry="2.30" fill="#A000C9" stroke="#000" stroke-width="1.1"/>
<ellipse cx="528.85" cy="568.20" rx="2.30" ry="2.30" fill="#A000C9" stroke="#000" stroke-width="1.1"/>
<ellipse cx="519.85" cy="571.10" rx="2.30" ry="2.30" fill="#A000C9" stroke="#000" stroke-width="1.1"/>
<ellipse cx="524.35" cy="571.10" rx="2.30" ry="2.30" fill="#A000C9" stroke="#000" stroke-width="1.1"/>
<ellipse cx="510.65" cy="573.00" rx="2.30" ry="2.30" fill="#A000C9" stroke="#000" stroke-width="1.1"/>
<ellipse cx="528.85" cy="575.20" rx="2.30" ry="2.30" fill="#A000C9" stroke="#000" stroke-width="1.1"/>
<line x1="321.8" y1="504.65" x2="321.8" y2="675.55" stroke="#000" stroke-width="1.5"/>
<line x1="321.05" y1="674.8" x2="540" y2="674.8" stroke="#000" stroke-width="1.5"/>
<line x1="321.8" y1="674.80" x2="325.8" y2="674.80" stroke="#000" stroke-width="1.3"/>
<text transform="translate(320.00,677.52)" font-size="6.8" font-weight="bold" text-anchor="end" class="k">0</text>
<line x1="321.8" y1="640.92" x2="325.8" y2="640.92" stroke="#000" stroke-width="1.3"/>
<text transform="translate(320.00,643.64)" font-size="6.8" font-weight="bold" text-anchor="end" class="k">200</text>
<line x1="321.8" y1="607.04" x2="325.8" y2="607.04" stroke="#000" stroke-width="1.3"/>
<text transform="translate(320.00,609.76)" font-size="6.8" font-weight="bold" text-anchor="end" class="k">400</text>
<line x1="321.8" y1="573.16" x2="325.8" y2="573.16" stroke="#000" stroke-width="1.3"/>
<text transform="translate(320.00,575.88)" font-size="6.8" font-weight="bold" text-anchor="end" class="k">600</text>
<line x1="321.8" y1="539.28" x2="325.8" y2="539.28" stroke="#000" stroke-width="1.3"/>
<text transform="translate(320.00,542.00)" font-size="6.8" font-weight="bold" text-anchor="end" class="k">800</text>
<line x1="321.8" y1="505.40" x2="325.8" y2="505.40" stroke="#000" stroke-width="1.3"/>
<text transform="translate(320.00,508.12)" font-size="6.8" font-weight="bold" text-anchor="end" class="k">1000</text>
<text transform="translate(303.00,590.20) rotate(-90)" font-size="7.8" font-weight="bold" text-anchor="middle" class="k">IL-10(ng/mL)</text>
<text transform="translate(348.15,686.30) rotate(-45)" font-size="7.2" font-weight="bold" text-anchor="end" class="k">Control</text>
<text transform="translate(383.30,686.30) rotate(-45)" font-size="7.2" font-weight="bold" text-anchor="end" class="k">Model</text>
<text transform="translate(418.15,686.30) rotate(-45)" font-size="7.2" font-weight="bold" text-anchor="end" class="k">PO</text>
<text transform="translate(453.15,686.30) rotate(-45)" font-size="7.2" font-weight="bold" text-anchor="end" class="k">PO-SECs</text>
<text transform="translate(488.15,686.30) rotate(-45)" font-size="7.2" font-weight="bold" text-anchor="end" class="k">Ca-Alg@PO-SECs</text>
<text transform="translate(523.15,686.30) rotate(-45)" font-size="7.2" font-weight="bold" text-anchor="end" class="k">Positive Drug</text>
<text transform="translate(381.38,661.77)" font-size="8.8" font-weight="bold" text-anchor="middle" fill="#3c3c3c" stroke="#3c3c3c" stroke-width="0.3" letter-spacing="0.10">***</text>
<text transform="translate(414.62,617.01)" font-size="7.4" text-anchor="middle" fill="#585858" font-style="italic" stroke="#585858" stroke-width="0.3">###</text>
<text transform="translate(413.90,625.22)" font-size="8.8" font-weight="bold" text-anchor="middle" fill="#3c3c3c" stroke="#3c3c3c" stroke-width="0.3" letter-spacing="0.10">***</text>
<text transform="translate(449.82,631.13)" font-size="7.4" text-anchor="middle" fill="#585858" font-style="italic" stroke="#585858" stroke-width="0.3">#</text>
<text transform="translate(450.06,640.97)" font-size="8.8" font-weight="bold" text-anchor="middle" fill="#3c3c3c" stroke="#3c3c3c" stroke-width="0.3" letter-spacing="0.10">***</text>
<text transform="translate(484.33,547.49)" font-size="7.4" text-anchor="middle" fill="#585858" font-style="italic" stroke="#585858" stroke-width="0.3">###</text>
<text transform="translate(484.29,557.37)" font-size="8.8" font-weight="bold" text-anchor="middle" fill="#3c3c3c" stroke="#3c3c3c" stroke-width="0.3" letter-spacing="0.10">**</text>
<text transform="translate(520.47,555.93)" font-size="7.4" text-anchor="middle" fill="#585858" font-style="italic" stroke="#585858" stroke-width="0.3">###</text>
<text transform="translate(520.60,563.77)" font-size="8.8" font-weight="bold" text-anchor="middle" fill="#3c3c3c" stroke="#3c3c3c" stroke-width="0.3" letter-spacing="0.10">**</text>
</g>
</svg>
</body></html>
